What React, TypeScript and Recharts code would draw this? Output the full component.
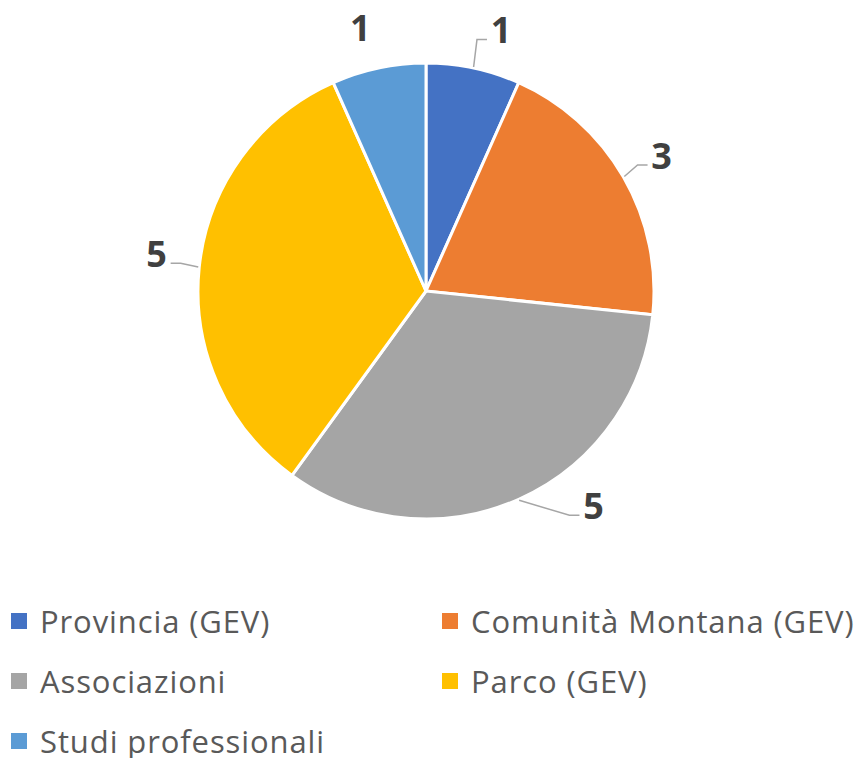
import { PieChart, Pie, Cell, Legend } from "recharts";

const NAMES = [
  "Provincia (GEV)",
  "Comunità Montana (GEV)",
  "Associazioni",
  "Parco (GEV)",
  "Studi professionali",
];
const VALUES = [1, 3, 5, 5, 1];
const COLORS = ["#4472C4", "#ED7D31", "#A5A5A5", "#FFC000", "#5B9BD5"];

const data = NAMES.map((name, i) => ({ name, value: VALUES[i] }));

// small angle tweaks so labels sit roughly where Excel put them
const LABEL_NUDGE: Record<string, number> = {
  "Provincia (GEV)": -4,
  Associazioni: 14,
  "Parco (GEV)": -2,
  "Studi professionali": 2,
};
const NO_LEADER = ["Studi professionali"];

const RAD = Math.PI / 180;

if (typeof document !== "undefined") {
  document.body.style.margin = "0";
}

function renderLabel(props: any) {
  const { cx, cy, midAngle, outerRadius, value, name } = props;
  const labelAngle = midAngle + (LABEL_NUDGE[name] || 0);
  const r = outerRadius + 44;
  const lx = cx + r * Math.cos(-labelAngle * RAD);
  const ly = cy + r * Math.sin(-labelAngle * RAD);
  const sx = cx + (outerRadius + 1) * Math.cos(-midAngle * RAD);
  const sy = cy + (outerRadius + 1) * Math.sin(-midAngle * RAD);
  const side = lx >= cx ? 1 : -1;
  const endX = lx - side * 14;
  const endY = ly + 10;
  const elbowX = endX - side * 10;

  return (
    <g>
      {!NO_LEADER.includes(name) && (
        <polyline
          points={`${sx},${sy} ${elbowX},${endY} ${endX},${endY}`}
          fill="none"
          stroke="#A6A6A6"
          strokeWidth={1.5}
        />
      )}
      <text
        x={lx}
        y={ly}
        textAnchor="middle"
        dominantBaseline="central"
        fill="#404040"
        fontSize={36}
        fontWeight="bold"
        fontFamily="'Open Sans', sans-serif"
      >
        {value}
      </text>
    </g>
  );
}

function renderLegend() {
  return (
    <div
      style={{
        display: "grid",
        gridTemplateColumns: "431px 430px",
        fontFamily: "'Open Sans', sans-serif",
        fontSize: 31,
        letterSpacing: 0.9,
        color: "#595959",
      }}
    >
      {NAMES.map((name, i) => (
        <div
          key={name}
          style={{
            display: "flex",
            alignItems: "center",
            height: 60,
            paddingLeft: 11,
            whiteSpace: "nowrap",
          }}
        >
          <span
            style={{
              width: 16,
              height: 16,
              background: COLORS[i],
              marginRight: 13,
              flexShrink: 0,
            }}
          />
          <span>{name}</span>
        </div>
      ))}
    </div>
  );
}

export default function App() {
  return (
    <div style={{ width: 861, height: 758, background: "#fff" }}>
      <PieChart
        width={861}
        height={758}
        margin={{ top: 0, right: 0, bottom: 0, left: 0 }}
        style={{ overflow: "visible" }}
      >
        <Pie
          data={data}
          dataKey="value"
          nameKey="name"
          cx={426}
          cy={291}
          outerRadius={228}
          startAngle={90}
          endAngle={-270}
          stroke="#fff"
          strokeWidth={3}
          label={renderLabel}
          labelLine={false}
          isAnimationActive={false}
        >
          {data.map((d, i) => (
            <Cell key={d.name} fill={COLORS[i]} />
          ))}
        </Pie>
        <Legend
          content={renderLegend}
          wrapperStyle={{
            position: "absolute",
            left: 0,
            top: 591,
            width: 861,
            height: 166,
            overflow: "visible",
          }}
        />
      </PieChart>
    </div>
  );
}
